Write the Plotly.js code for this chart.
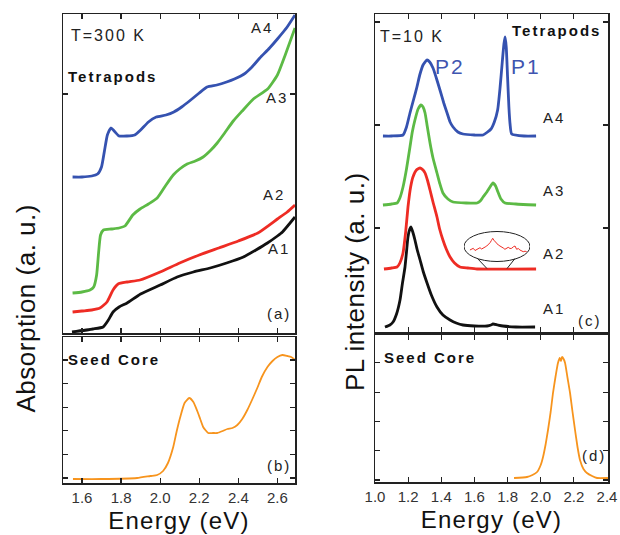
<!DOCTYPE html>
<html><head><meta charset="utf-8">
<script src="https://cdn.plot.ly/plotly-3.0.1.min.js"></script>
<style>
html,body{margin:0;padding:0;background:#fff;}
#chart{width:620px;height:535px;}
#chart text.annotation-text{letter-spacing:2px;}
#chart .ytitle-ann text.annotation-text{letter-spacing:0.6px;}
#chart .xtick text{letter-spacing:1px;}
#chart text.x2title, #chart text.x4title{letter-spacing:1.2px;}
</style>
</head><body>
<div id="chart"></div>
<script>
// ---------- (a) Absorption, T=300 K, tetrapods ----------
const absE_A1 = [1.549,1.656,1.708,1.735,1.759,1.79,1.831,1.9,2.0,2.087,2.17,2.256,2.34,2.426,2.49,2.549,2.6,2.626,2.69];
const abs_A1  = [1,4,6,13,21,26,30,39,48,56,61,65,70,76,83,90,97,101,116];
const absE_A2 = [1.552,1.6,1.65,1.692,1.728,1.759,1.785,1.831,1.897,2.0,2.1,2.2,2.3,2.4,2.5,2.6,2.65,2.69];
const abs_A2  = [21,22,23,25,31,43,49,51,53,61,70,78,85,92,100,114,121,128];
const absE_A3 = [1.552,1.6,1.641,1.66,1.675,1.685,1.695,1.71,1.75,1.79,1.82,1.86,1.897,1.94,1.985,2.03,2.067,2.1,2.138,2.18,2.22,2.26,2.292,2.33,2.374,2.42,2.477,2.55,2.6,2.64,2.69];
const abs_A3  = [40,41,43,46,58,80,98,103,104,105,107,118,124,129,135,148,158,164,169,172,176,183,190,200,212,222,234,244,258,278,305];
const absE_A4 = [1.552,1.6,1.65,1.68,1.7,1.715,1.73,1.748,1.765,1.79,1.83,1.87,1.9,1.94,1.98,2.03,2.07,2.11,2.15,2.2,2.24,2.29,2.34,2.38,2.43,2.47,2.51,2.56,2.6,2.65,2.69];
const abs_A4  = [156,156,157,159,166,182,198,205,202,197,197,198,203,211,216,218,221,226,232,240,246,248,251,254,259,266,275,285,294,306,318];

// ---------- (b) Absorption, seed core ----------
const seedAbsE = [1.554,1.7,1.882,1.95,1.985,2.015,2.04,2.067,2.085,2.103,2.125,2.149,2.17,2.19,2.205,2.22,2.246,2.27,2.292,2.32,2.344,2.37,2.395,2.42,2.446,2.47,2.497,2.52,2.549,2.575,2.6,2.625,2.651,2.67,2.69];
const seedAbs  = [4,4,5,7,8,12,20,36,52,66,80,85,81,72,64,56,50,50,50,52,54,55,58,64,73,83,95,106,116,122,126,128,127,126,123];

// ---------- (c) PL, T=10 K, tetrapods ----------
const plE_A1 = [1.06,1.09,1.109,1.13,1.151,1.165,1.181,1.19,1.199,1.21,1.217,1.228,1.241,1.255,1.272,1.29,1.314,1.34,1.374,1.41,1.453,1.49,1.531,1.6,1.676,1.7,1.712,1.74,1.772,1.85,1.966];
const pl_A1  = [5,7,10,18,32,48,65,80,95,103,105,100,92,82,72,61,49,37,25,17,12,9,7,6,6,7,8,7,6,5,5];
const plE_A2 = [1.054,1.1,1.133,1.15,1.169,1.185,1.199,1.215,1.229,1.25,1.272,1.29,1.302,1.318,1.332,1.35,1.374,1.39,1.41,1.43,1.453,1.48,1.513,1.56,1.616,1.972];
const pl_A2  = [63,64,65,69,79,100,125,145,155,162,164,162,159,151,142,130,115,103,92,83,75,69,65,64,63,63];
const plE_A3 = [1.048,1.1,1.133,1.15,1.169,1.19,1.211,1.225,1.241,1.26,1.278,1.29,1.302,1.315,1.332,1.35,1.374,1.39,1.41,1.44,1.471,1.55,1.616,1.635,1.652,1.675,1.694,1.712,1.728,1.742,1.76,1.785,1.85,1.972];
const pl_A3  = [127,128,129,134,145,163,185,200,212,223,227,225,219,206,189,174,159,149,139,133,130,129,129,131,135,140,145,149,146,140,133,129,128,127];
const plE_A4 = [1.048,1.1,1.169,1.19,1.211,1.232,1.253,1.27,1.29,1.314,1.33,1.35,1.37,1.392,1.415,1.435,1.453,1.471,1.5,1.531,1.6,1.652,1.7,1.72,1.74,1.755,1.768,1.778,1.785,1.792,1.8,1.808,1.815,1.825,1.9,1.972];
const pl_A4  = [196,196,197,205,219,232,245,257,267,272,270,264,254,242,229,219,210,205,200,198,197,197,203,210,222,245,270,288,295,285,255,225,208,198,196,196];
// magnified inset of A2 around P1
const insetE = [1.586,1.596,1.606,1.617,1.627,1.637,1.647,1.657,1.667,1.678,1.688,1.698,1.708,1.716,1.724,1.731,1.738,1.748,1.758,1.768,1.778,1.788,1.798,1.808,1.818,1.829,1.839,1.849,1.859,1.869,1.879,1.889,1.899,1.909,1.92,1.93];
const insetI = [20,21,21.7,19.5,20.7,21.5,22.3,21,21.7,23,24,25.5,27.3,29.5,31.7,29.8,28.3,26,25,24,23.3,22,20.7,21.8,22.7,21.5,21.7,23.2,24,20.7,21.5,20,19.2,18.3,18.8,18.3];

// ---------- (d) PL, seed core ----------
const seedPlE = [1.839,1.917,1.95,1.978,2.0,2.014,2.03,2.044,2.06,2.074,2.09,2.104,2.115,2.122,2.129,2.138,2.147,2.162,2.177,2.192,2.207,2.222,2.237,2.258,2.279,2.31,2.34,2.406];
const seedPl  = [4,5,7,10,17,25,38,52,70,89,106,119,124,121,125,123,119,104,89,70,52,35,22,13,9,6,4,4];

const xTicksL = [1.6,1.8,2.0,2.2,2.4,2.6];
const xTicksR = [1.0,1.2,1.4,1.6,1.8,2.0,2.2,2.4];

// ---------- colours ----------
const BLUE='#3552b0', GREEN='#5cba45', RED='#ee2c24', BLACK='#111111', ORANGE='#f7941d';

const W=620, H=535;
const px = v => v/W, py = v => 1 - v/H;

function ln(x,y,color,xa,ya,w){
  return {x:x,y:y,type:'scatter',mode:'lines',xaxis:xa,yaxis:ya,
    line:{color:color,width:w||2.8,shape:'spline',smoothing:0.5},hoverinfo:'skip',showlegend:false};
}

const data = [
  ln(absE_A1,abs_A1,BLACK,'x','y'),
  ln(absE_A2,abs_A2,RED,'x','y'),
  ln(absE_A3,abs_A3,GREEN,'x','y'),
  ln(absE_A4,abs_A4,BLUE,'x','y'),
  ln(seedAbsE,seedAbs,ORANGE,'x2','y2',1.8),
  ln(plE_A1,pl_A1,BLACK,'x3','y3'),
  ln(plE_A2,pl_A2,RED,'x3','y3'),
  ln(plE_A3,pl_A3,GREEN,'x3','y3'),
  ln(plE_A4,pl_A4,BLUE,'x3','y3'),
  {x:insetE,y:insetI,type:'scatter',mode:'lines',xaxis:'x5',yaxis:'y5',line:{color:RED,width:1},hoverinfo:'skip',showlegend:false},
  ln(seedPlE,seedPl,ORANGE,'x4','y4',1.8)
];

const FR = '"Liberation Sans", Arial, sans-serif';
const frame = {showline:true,linecolor:'#222',linewidth:1.5,mirror:'ticks',ticks:'inside',ticklen:5,tickwidth:1.2,tickcolor:'#222',
  showgrid:false,zeroline:false,fixedrange:true};
const tickFont = {family:FR,size:15,color:'#333'};

function xax(dom,range,vals,labels,anchor,title){
  const a = Object.assign({},frame,{domain:dom,range:range,tickvals:vals,showticklabels:labels,tickfont:tickFont,anchor:anchor,tickformat:'.1f'});
  if(title){a.title={text:title,font:{family:FR,size:24,color:'#111'},standoff:7};}
  return a;
}
function yax(dom,range,tick0,dtick,anchor){
  return Object.assign({},frame,{domain:dom,range:range,tick0:tick0,dtick:dtick,tickmode:'linear',showticklabels:false,anchor:anchor});
}

const xL=[px(63),px(295)], xR=[px(375),px(608)];
const layout = {
  width:W,height:H,margin:{l:0,r:0,t:0,b:0},paper_bgcolor:'#fff',plot_bgcolor:'rgba(0,0,0,0)',
  showlegend:false,
  xaxis: xax(xL,[1.503,2.69],xTicksL,false,'y'),
  yaxis: yax([py(333),py(14)],[0,319],0,239,'x'),
  xaxis2: xax(xL,[1.503,2.69],xTicksL,true,'y2','Energy (eV)'),
  yaxis2: yax([py(483),py(337)],[0,146],5,23.6,'x2'),
  xaxis3: xax(xR,[1.0,2.406],xTicksR,false,'y3'),
  yaxis3: yax([py(332),py(14)],[0,318],1,103,'x3'),
  xaxis4: xax(xR,[1.0,2.406],xTicksR,true,'y4','Energy (eV)'),
  yaxis4: yax([py(482),py(335)],[0,147],2,29.3,'x4'),
  xaxis5: {domain:[px(464),px(530)],range:[1.55,1.95],visible:false,anchor:'y5',fixedrange:true},
  yaxis5: {domain:[py(270),py(229)],range:[0,41],visible:false,anchor:'x5',fixedrange:true},
  shapes:[
    {type:'circle',xref:'x5',yref:'y5',x0:1.55,x1:1.95,y0:8.5,y1:38.5,line:{color:'#222',width:1}},
    {type:'line',xref:'x5',yref:'y5',x0:1.629,y0:12,x1:1.689,y1:1.5,line:{color:'#222',width:1}},
    {type:'line',xref:'x5',yref:'y5',x0:1.859,y0:11.5,x1:1.811,y1:1.5,line:{color:'#222',width:1}}
  ],
  annotations:[]
};

function ann(text,x,y,o){
  o=o||{};
  layout.annotations.push(Object.assign({text:text,xref:'paper',yref:'paper',x:px(x),y:py(y),xanchor:'center',yanchor:'middle',showarrow:false,
    font:{family:FR,size:o.size||15,color:o.color||'#222',weight:o.bold?'bold':'normal'}},o.extra||{}));
}
// panel (a)
ann('T=300 K',108,35,{size:16});
ann('Tetrapods',112,77,{size:15,bold:true,color:'#111'});
ann('A4',262,27);
ann('A3',277,98);
ann('A2',274,195);
ann('A1',279,248);
ann('(a)',279,313);
// panel (b)
ann('Seed Core',114,359,{size:15,bold:true,color:'#111'});
ann('(b)',279,465);
// panel (c)
ann('T=10 K',412,36,{size:16});
ann('Tetrapods',556,30,{size:15,bold:true,color:'#111'});
ann('P2',450,67,{size:21,color:'#3f55b0'});
ann('P1',526,67,{size:21,color:'#3f55b0'});
ann('A4',554,118);
ann('A3',554,190);
ann('A2',554,253);
ann('A1',554,308);
ann('(c)',590,320);
// panel (d)
ann('Seed Core',430,357,{size:15,bold:true,color:'#111'});
ann('(d)',594,455);
// y titles (spanning two stacked panels)
ann('Absorption (a. u.)',26,309,{size:26,color:'#111',extra:{textangle:-90}});
ann('PL intensity (a. u.)',355,282,{size:26,color:'#111',extra:{textangle:-90}});

Plotly.newPlot('chart',data,layout,{staticPlot:true,displayModeBar:false}).then(function(){
  // tighter spacing for the two rotated axis titles
  document.querySelectorAll('#chart text.annotation-text').forEach(function(t){
    if(/intensity|Absorption/.test(t.textContent)){ t.style.letterSpacing='0.5px'; }
  });
});
</script>
</body></html>
